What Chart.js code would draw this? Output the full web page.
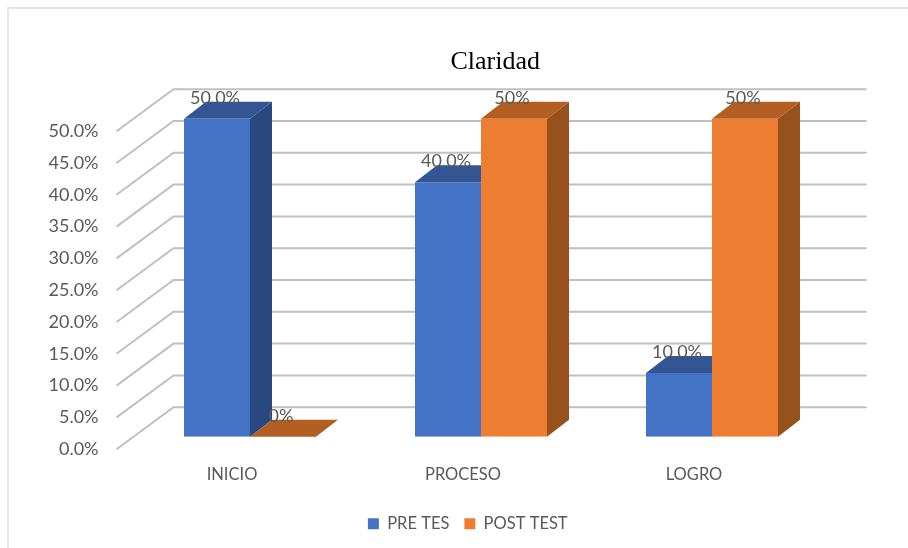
<!DOCTYPE html>
<html>
<head>
<meta charset="utf-8">
<script src="https://cdn.jsdelivr.net/npm/chart.js@4"></script>
<style>
    html, body { margin: 0; padding: 0; background: #fff; overflow: hidden; }
    #frame { position: absolute; left: 7px; top: 7px; width: 908px; height: 548px; border: 2px solid #e6e6e6; }
    #wrap { position: absolute; left: 0; top: 0; width: 908px; height: 548px; }
    canvas { filter: blur(0.4px); }
</style>
</head>
<body>
<div id="frame"></div>
<div id="wrap"><canvas id="chart" width="908" height="548"></canvas></div>
<script>
const categories = ['INICIO', 'PROCESO', 'LOGRO'];
const preValues = [50, 40, 10];
const postValues = [0, 50, 50];
const preLabels = ['50.0%', '40.0%', '10.0%'];
const postLabels = ['0%', '50%', '50%'];

// fausse 3D : decalage des barres et profondeur
const barShift = { x: 18, y: -12.5 };
const barDepth = { x: 22, y: -17 };
const wallDepth = { x: 57, y: -42 };

const sideColors = ['#2a4880', '#97511d'];
const topColors = ['#335594', '#b35e23'];

function poly(ctx, pts, color) {
    ctx.fillStyle = color;
    ctx.beginPath();
    pts.forEach((p, i) => i ? ctx.lineTo(p[0], p[1]) : ctx.moveTo(p[0], p[1]));
    ctx.closePath();
    ctx.fill();
}

const fake3d = {
    id: 'fake3d',
    afterLayout(chart) {
        // titre et legende recentres sur le graphique complet
        chart.titleBlock.left += 90.5;
        chart.titleBlock.right += 90.5;
        chart.legend.left += 63;
        chart.legend.right += 63;
        chart.legend.top += 7.5;
        chart.legend.bottom += 7.5;
    },
    beforeDatasetsDraw(chart) {
        const ctx = chart.ctx;
        const y = chart.scales.y;
        const area = chart.chartArea;
        // grille : mur du fond + plancher
        ctx.save();
        ctx.strokeStyle = '#c0c0c0';
        ctx.lineWidth = 2;
        y.ticks.forEach(t => {
            const py = y.getPixelForValue(t.value);
            ctx.beginPath();
            ctx.moveTo(area.left, py);
            ctx.lineTo(area.left + wallDepth.x, py + wallDepth.y);
            ctx.lineTo(area.right + wallDepth.x, py + wallDepth.y);
            ctx.stroke();
        });
        ctx.restore();
        ctx.save();
        ctx.translate(barShift.x, barShift.y);
        // cotes et dessus avant les faces avant
        [0, 1].forEach(i => {
            chart.getDatasetMeta(i).data.forEach(bar => {
                const l = bar.x - bar.width / 2;
                const r = bar.x + bar.width / 2;
                const d = barDepth;
                poly(ctx, [[r, bar.y], [r + d.x, bar.y + d.y], [r + d.x, bar.base + d.y], [r, bar.base]], sideColors[i]);
                poly(ctx, [[l, bar.y], [l + d.x, bar.y + d.y], [r + d.x, bar.y + d.y], [r, bar.y]], topColors[i]);
            });
        });
    },
    afterDatasetsDraw(chart) {
        const ctx = chart.ctx;
        ctx.font = '18px Lato';
        ctx.fillStyle = '#595959';
        ctx.textAlign = 'center';
        ctx.textBaseline = 'middle';
        [preLabels, postLabels].forEach((labels, i) => {
            chart.getDatasetMeta(i).data.forEach((bar, j) => {
                ctx.fillText(labels[j], bar.x - 2, bar.y - 21);
            });
        });
        ctx.restore();
    }
};

new Chart(document.getElementById('chart'), {
    type: 'bar',
    data: {
        labels: categories,
        datasets: [
            { label: 'PRE TES', data: preValues, backgroundColor: '#4472c4' },
            { label: 'POST TEST', data: postValues, backgroundColor: '#ed7d31' }
        ]
    },
    options: {
        responsive: false,
        animation: false,
        layout: { padding: { left: 0, right: 98.5, top: 0, bottom: 13.5 } },
        categoryPercentage: 0.5714,
        barPercentage: 1,
        plugins: {
            title: {
                display: true,
                text: 'Claridad',
                color: '#000',
                font: { family: 'Liberation Serif', size: 26, weight: 'normal' },
                padding: { top: 47, bottom: 53 }
            },
            legend: {
                position: 'bottom',
                labels: { boxWidth: 11, boxHeight: 11, padding: 15, color: '#595959', font: { family: 'Lato', size: 16.5 } }
            },
            tooltip: { enabled: false }
        },
        scales: {
            x: {
                grid: { display: false },
                border: { display: false },
                ticks: { color: '#595959', font: { family: 'Lato', size: 16.5 }, padding: 8 }
            },
            y: {
                min: 0,
                max: 50,
                grid: { display: false },
                border: { display: false },
                afterFit(s) { s.width = 116.5; },
                ticks: {
                    stepSize: 5,
                    color: '#595959',
                    font: { family: 'Lato', size: 18 },
                    padding: 10,
                    callback: v => v.toFixed(1) + '%'
                }
            }
        }
    },
    plugins: [fake3d]
});
</script>
</body>
</html>
